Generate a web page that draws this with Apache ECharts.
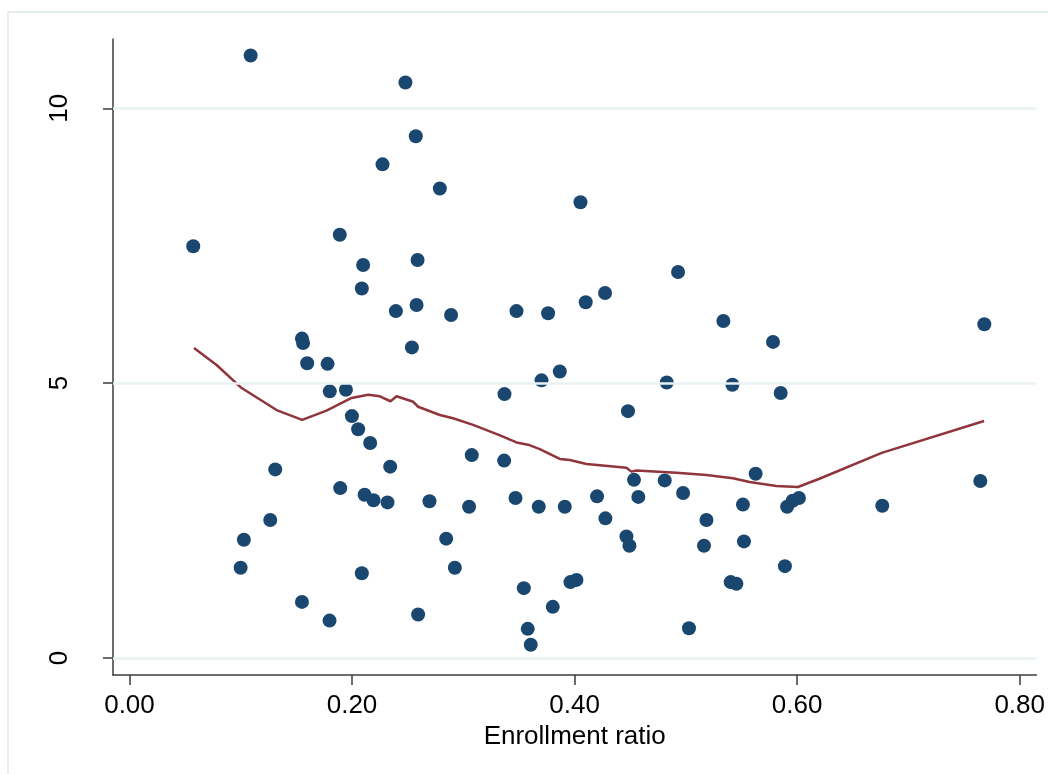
<!DOCTYPE html>
<html>
<head>
<meta charset="utf-8">
<script src="https://cdn.jsdelivr.net/npm/echarts@6/dist/echarts.min.js"></script>
<style>
html,body{margin:0;padding:0;background:#fff;}
#chart{width:1048px;height:774px;}
</style>
</head>
<body>
<div id="chart"></div>
<script>
// Scatter data: enrollment ratio (x) and outcome (y)
const enrollment = [0.1089,0.0573,0.189,0.155,0.156,0.1597,0.178,0.180,0.1945,0.248,
  0.2573,0.2274,0.2789,0.4053,0.210,0.2589,0.2088,0.2394,0.258,0.289,
  0.3478,0.3762,0.410,0.4274,0.493,0.2538,0.4828,0.3703,0.3867,0.337,
  0.1999,0.2055,0.2163,0.2343,0.131,0.1894,0.2113,0.2193,0.2319,0.1265,
  0.1028,0.0999,0.2088,0.155,0.1798,0.448,0.3076,0.3367,0.4534,0.481,
  0.4975,0.4573,0.4202,0.2696,0.3469,0.3052,0.3678,0.3912,0.4277,0.5185,
  0.5513,0.5522,0.4466,0.4493,0.5163,0.2846,0.2924,0.3544,0.3963,0.4017,
  0.5403,0.5454,0.3804,0.2594,0.3579,0.5028,0.3606,0.5337,0.5783,0.7682,
  0.5418,0.5852,0.5627,0.7646,0.591,0.596,0.6016,0.6765,0.589];
const yValues = [10.96,7.49,7.70,5.81,5.73,5.36,5.35,4.85,4.88,10.47,
  9.49,8.98,8.54,8.29,7.15,7.24,6.72,6.31,6.42,6.24,
  6.31,6.27,6.47,6.64,7.02,5.65,5.01,5.05,5.21,4.80,
  4.40,4.16,3.91,3.48,3.43,3.09,2.97,2.87,2.83,2.51,
  2.15,1.64,1.54,1.02,0.68,4.49,3.69,3.59,3.24,3.23,
  3.00,2.93,2.94,2.85,2.91,2.75,2.75,2.75,2.54,2.51,
  2.79,2.12,2.21,2.04,2.04,2.17,1.64,1.27,1.38,1.42,
  1.38,1.35,0.93,0.79,0.53,0.54,0.24,6.13,5.75,6.07,
  4.97,4.82,3.35,3.22,2.75,2.86,2.91,2.77,1.67];

// Lowess smoother line
const lowessX = [0.058,0.0783,0.1008,0.1322,0.1552,0.1771,0.1996,0.2145,0.225,0.2346,
  0.240,0.255,0.2594,0.2789,0.2908,0.3088,0.333,0.3478,0.3582,0.3687,
  0.3867,0.3957,0.4107,0.4466,0.451,0.4556,0.4915,0.5185,0.5423,0.5573,
  0.5813,0.6007,0.620,0.676,0.768];
const lowessY = [5.64,5.33,4.91,4.51,4.33,4.50,4.73,4.79,4.76,4.67,
  4.76,4.66,4.57,4.42,4.36,4.24,4.05,3.92,3.88,3.80,
  3.62,3.60,3.53,3.46,3.39,3.41,3.37,3.33,3.27,3.20,
  3.13,3.11,3.26,3.73,4.31];

// Tick labels
const xTicks = [0, 0.2, 0.4, 0.6, 0.8];
const yTicks = [0, 5, 10];
const xTitle = 'Enrollment ratio';

const FONT = '"Liberation Sans", Arial, sans-serif';
const chart = echarts.init(document.getElementById('chart'), null, {renderer: 'canvas'});
chart.setOption({
  animation: false,
  backgroundColor: '#ffffff',
  graphic: [{
    type: 'rect', z: -10,
    shape: {x: 8, y: 12, width: 1100, height: 800},
    style: {fill: 'none', stroke: '#e6eef1', lineWidth: 2}
  }],
  grid: {left: 113, right: 11, top: 39, bottom: 99, containLabel: false},
  xAxis: {
    type: 'value', min: -0.0148, max: 0.815,
    name: xTitle, nameLocation: 'middle', nameGap: 46,
    nameTextStyle: {fontFamily: FONT, fontSize: 26, color: '#000'},
    axisLine: {show: true, onZero: false, lineStyle: {color: '#3c3c3c', width: 1.5}},
    axisTick: {show: true, length: 10, customValues: xTicks, lineStyle: {color: '#3c3c3c', width: 1.5}},
    axisLabel: {customValues: xTicks, margin: 18, fontFamily: FONT, fontSize: 26, color: '#000',
      formatter: v => v.toFixed(2)},
    splitLine: {show: false}
  },
  yAxis: {
    type: 'value', min: -0.31, max: 11.26,
    axisLine: {show: true, onZero: false, lineStyle: {color: '#3c3c3c', width: 1.5}},
    axisTick: {show: true, length: 10, customValues: yTicks, lineStyle: {color: '#3c3c3c', width: 1.5}},
    axisLabel: {customValues: yTicks, rotate: 90, margin: 40, fontFamily: FONT, fontSize: 26, color: '#000',
      formatter: v => String(v)},
    splitLine: {show: false}
  },
  series: [
    {
      type: 'line', data: [], z: 1, silent: true,
      markLine: {
        silent: true, symbol: 'none', label: {show: false},
        lineStyle: {color: '#eaf2f3', width: 2.5, type: 'solid'},
        data: yTicks.map(v => ({yAxis: v}))
      }
    },
    {
      type: 'scatter', z: 3,
      data: enrollment.map((x, i) => [x, yValues[i]]),
      symbol: 'circle', symbolSize: 14,
      itemStyle: {color: '#1a476f', opacity: 1}
    },
    {
      type: 'line', z: 4,
      data: lowessX.map((x, i) => [x, lowessY[i]]),
      showSymbol: false, symbol: 'none', smooth: false,
      lineStyle: {color: '#90353b', width: 2.5}
    }
  ]
});
</script>
</body>
</html>
